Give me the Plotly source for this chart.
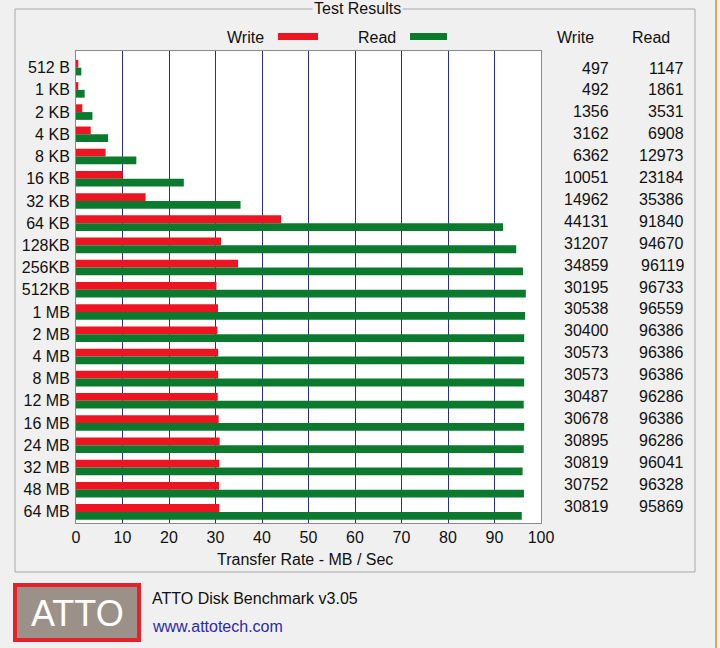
import plotly.graph_objects as go

sizes = ["512 B", "1 KB", "2 KB", "4 KB", "8 KB", "16 KB", "32 KB", "64 KB", "128KB", "256KB",
         "512KB", "1 MB", "2 MB", "4 MB", "8 MB", "12 MB", "16 MB", "24 MB", "32 MB", "48 MB", "64 MB"]
write_kb = [497, 492, 1356, 3162, 6362, 10051, 14962, 44131, 31207, 34859,
            30195, 30538, 30400, 30573, 30573, 30487, 30678, 30895, 30819, 30752, 30819]
read_kb = [1147, 1861, 3531, 6908, 12973, 23184, 35386, 91840, 94670, 96119,
           96733, 96559, 96386, 96386, 96386, 96286, 96386, 96286, 96041, 96328, 95869]
x_ticks = list(range(0, 101, 10))

W, H = 720, 648
def px(x):
    return x / W
def py(y):
    return 1 - y / H

FONT = "Liberation Sans"
RED = "#ee1522"
GREEN = "#0b7a2e"
BG = "#f0f0f0"

fig = go.Figure()
fig.add_trace(go.Bar(y=sizes, x=[v / 1000 for v in write_kb], orientation="h", name="Write",
                     marker=dict(color=RED, line=dict(width=0))))
fig.add_trace(go.Bar(y=sizes, x=[v / 1000 for v in read_kb], orientation="h", name="Read",
                     marker=dict(color=GREEN, line=dict(width=0))))

fig.update_layout(
    width=W, height=H, margin=dict(l=0, r=0, t=0, b=0, pad=0, autoexpand=False),
    paper_bgcolor=BG, plot_bgcolor="white", showlegend=False,
    barmode="group", bargap=0.3, bargroupgap=0.0,
    font=dict(family=FONT, size=16, color="#111"),
    xaxis=dict(domain=[px(76), px(541)], range=[0, 100], tickvals=x_ticks, ticktext=[str(t) for t in x_ticks],
               showgrid=True, gridcolor="#2b2b98", gridwidth=1.3, zeroline=False,
               showline=True, linecolor="#8a8a8a", linewidth=1, mirror=True, ticks="",
               tickfont=dict(size=16), fixedrange=True, automargin=False),
    yaxis=dict(domain=[py(523), py(51)], type="category", range=[20.5, -0.75],
               showgrid=False, showline=True, linecolor="#8a8a8a", linewidth=1, mirror=True,
               ticks="", tickfont=dict(size=16), ticklabelstandoff=2, automargin=False),
)

shapes = []
annotations = []

# group box
shapes.append(dict(type="rect", xref="paper", yref="paper", x0=px(15), x1=px(695), y0=py(572), y1=py(9),
                   line=dict(color="#a8a8a8", width=1), fillcolor="rgba(0,0,0,0)", layer="below"))
annotations.append(dict(text="Test Results", x=px(357), y=py(9), xref="paper", yref="paper",
                        showarrow=False, bgcolor=BG, font=dict(size=16), xanchor="center", yanchor="middle",
                        borderpad=1))

# legend
annotations.append(dict(text="Write", x=px(245), y=py(37), xref="paper", yref="paper", showarrow=False,
                        font=dict(size=16), xanchor="center", yanchor="middle"))
shapes.append(dict(type="rect", xref="paper", yref="paper", x0=px(278), x1=px(318), y0=py(40), y1=py(33),
                   fillcolor=RED, line=dict(width=0)))
annotations.append(dict(text="Read", x=px(377), y=py(37), xref="paper", yref="paper", showarrow=False,
                        font=dict(size=16), xanchor="center", yanchor="middle"))
shapes.append(dict(type="rect", xref="paper", yref="paper", x0=px(410), x1=px(447), y0=py(40), y1=py(33),
                   fillcolor=GREEN, line=dict(width=0)))

# axis title
annotations.append(dict(text="Transfer Rate - MB / Sec", x=px(305), y=py(559), xref="paper", yref="paper",
                        showarrow=False, font=dict(size=16), xanchor="center", yanchor="middle"))

# table
annotations.append(dict(text="Write", x=px(575), y=py(37), xref="paper", yref="paper", showarrow=False,
                        font=dict(size=16), xanchor="center", yanchor="middle"))
annotations.append(dict(text="Read", x=px(651), y=py(37), xref="paper", yref="paper", showarrow=False,
                        font=dict(size=16), xanchor="center", yanchor="middle"))
row0, step = 68, 21.9
for i, (w, r) in enumerate(zip(write_kb, read_kb)):
    yy = py(row0 + i * step)
    annotations.append(dict(text=str(w), x=px(611), y=yy, xref="paper", yref="paper", showarrow=False,
                            font=dict(size=16), xanchor="right", yanchor="middle"))
    annotations.append(dict(text=str(r), x=px(686), y=yy, xref="paper", yref="paper", showarrow=False,
                            font=dict(size=16), xanchor="right", yanchor="middle"))

# logo
shapes.append(dict(type="rect", xref="paper", yref="paper", x0=px(15), x1=px(139), y0=py(640), y1=py(585),
                   fillcolor="#9b9189", line=dict(color="#e8202a", width=4)))
annotations.append(dict(text="ATTO", x=px(77), y=py(613), xref="paper", yref="paper", showarrow=False,
                        font=dict(size=36, color="white"), xanchor="center", yanchor="middle"))
annotations.append(dict(text="ATTO Disk Benchmark v3.05", x=px(150), y=py(598), xref="paper", yref="paper",
                        showarrow=False, font=dict(size=16, color="#111"), xanchor="left", yanchor="middle"))
annotations.append(dict(text="www.attotech.com", x=px(150), y=py(626), xref="paper", yref="paper",
                        showarrow=False, font=dict(size=16, color="#2a2aa8"), xanchor="left", yanchor="middle"))

# window edge
shapes.append(dict(type="line", xref="paper", yref="paper", x0=px(716), x1=px(716), y0=0, y1=1,
                   line=dict(color="#d9a868", width=2)))

fig.update_layout(shapes=shapes, annotations=annotations)
fig.write_html("out.html")
